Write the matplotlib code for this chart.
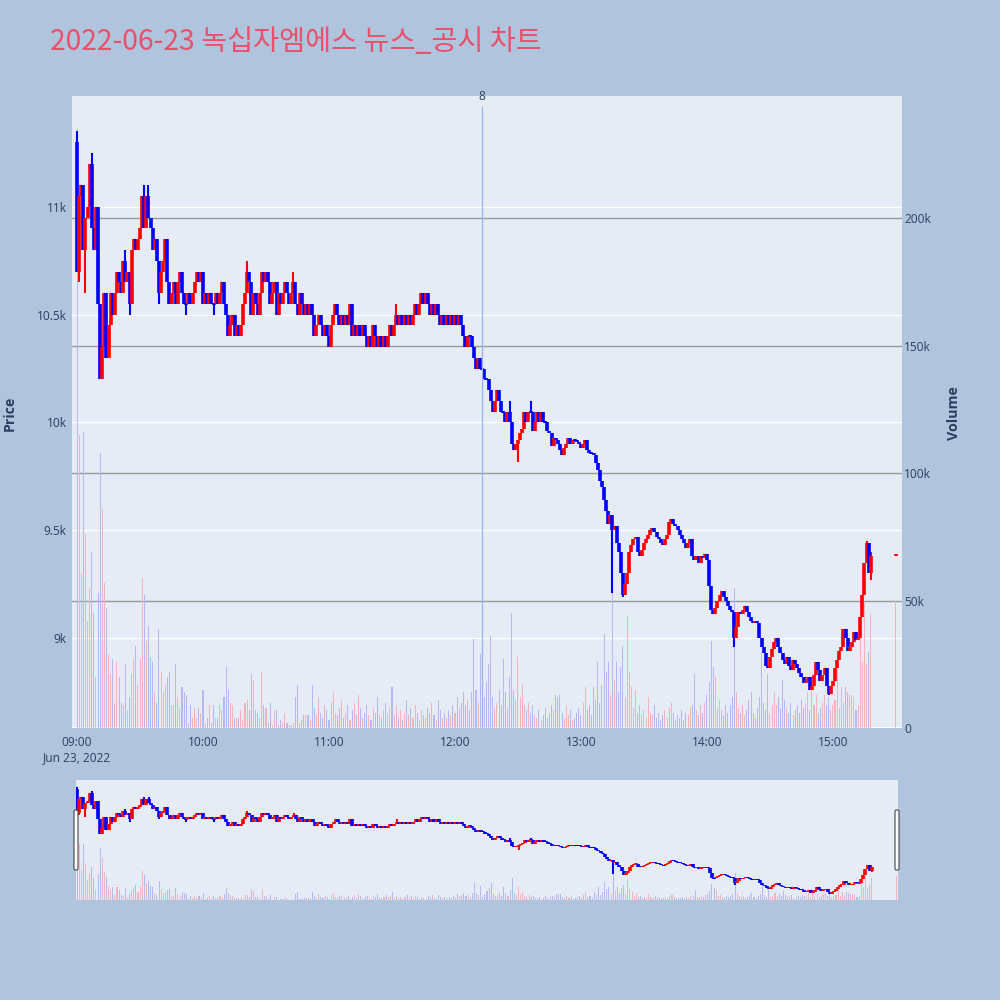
import matplotlib
matplotlib.use('Agg')
import matplotlib.pyplot as plt
from matplotlib.collections import LineCollection
from matplotlib.patches import FancyBboxPatch
from matplotlib.transforms import blended_transform_factory

plt.rcParams['font.family'] = ['Open Sans', 'Noto Sans CJK KR', 'DejaVu Sans']

# ---------------- data ----------------
title = '2022-06-23 녹십자엠에스 뉴스_공시 차트'
date_label = 'Jun 23, 2022'
hour_ticks = [0, 60, 120, 180, 240, 300, 360]          # minutes after 09:00
hour_labels = ['09:00', '10:00', '11:00', '12:00', '13:00', '14:00', '15:00']
price_ticks = [9000, 9500, 10000, 10500, 11000]
price_labels = ['9k', '9.5k', '10k', '10.5k', '11k']
vol_ticks = [0, 50000, 100000, 150000, 200000]
vol_labels = ['0', '50k', '100k', '150k', '200k']
news_minutes = [193]          # 12:13
news_labels = ['8']

# one candle per minute from 09:00 (minute 0) to 15:18 (minute 378), then closing auction (15:30)
minutes = list(range(379)) + [390]

close = [
    10700, 11050, 11100, 10800, 10950, 11000, 11200, 10900, 10800, 11000,
    10550, 10200, 10350, 10600, 10300, 10450, 10600, 10500, 10600, 10700,
    10650, 10600, 10750, 10650, 10700, 10550, 10800, 10850, 10800, 10850,
    10900, 11050, 10900, 11050, 10950, 10900, 10800, 10850, 10750, 10600,
    10700, 10750, 10850, 10650, 10550, 10600, 10650, 10550, 10650, 10700,
    10600, 10550, 10550, 10600, 10550, 10600, 10650, 10700, 10650, 10700,
    10550, 10600, 10550, 10600, 10550, 10550, 10600, 10550, 10600, 10650,
    10550, 10500, 10400, 10450, 10500, 10400, 10450, 10400, 10450, 10550,
    10600, 10700, 10650, 10500, 10600, 10550, 10500, 10600, 10700, 10650,
    10700, 10650, 10550, 10600, 10650, 10500, 10600, 10550, 10600, 10650,
    10600, 10550, 10600, 10650, 10550, 10500, 10600, 10550, 10500, 10550,
    10500, 10550, 10500, 10400, 10450, 10500, 10450, 10400, 10450, 10400,
    10350, 10450, 10500, 10550, 10500, 10450, 10500, 10450, 10500, 10450,
    10550, 10400, 10450, 10400, 10450, 10400, 10450, 10400, 10350, 10400,
    10350, 10450, 10400, 10350, 10400, 10350, 10400, 10350, 10400, 10450,
    10400, 10450, 10500, 10450, 10500, 10450, 10500, 10450, 10500, 10450,
    10500, 10550, 10500, 10550, 10600, 10550, 10600, 10550, 10500, 10550,
    10500, 10550, 10500, 10450, 10500, 10450, 10500, 10450, 10500, 10450,
    10500, 10450, 10500, 10450, 10400, 10350, 10400, 10400, 10350, 10300,
    10250, 10300, 10250, 10250, 10200, 10200, 10150, 10100, 10050, 10100,
    10150, 10100, 10050, 10050, 10000, 10050, 10000, 9900, 9870, 9900,
    9920, 9950, 9970, 10050, 10000, 10050, 10050, 9960, 10000, 10050,
    10000, 10050, 10000, 10000, 9960, 9950, 9890, 9930, 9920, 9900,
    9870, 9850, 9880, 9900, 9930, 9900, 9920, 9920, 9910, 9900,
    9880, 9900, 9920, 9870, 9860, 9860, 9850, 9810, 9780, 9730,
    9700, 9640, 9590, 9530, 9570, 9500, 9520, 9440, 9400, 9300,
    9200, 9250, 9300, 9400, 9430, 9460, 9470, 9400, 9380, 9410,
    9440, 9460, 9480, 9500, 9510, 9490, 9470, 9460, 9440, 9430,
    9460, 9480, 9540, 9550, 9530, 9520, 9500, 9480, 9460, 9440,
    9420, 9440, 9460, 9380, 9360, 9380, 9350, 9380, 9370, 9390,
    9360, 9240, 9130, 9110, 9140, 9170, 9200, 9220, 9190, 9170,
    9150, 9130, 9120, 9000, 9050, 9120, 9110, 9130, 9150, 9120,
    9100, 9080, 9070, 9080, 9070, 9000, 8960, 8930, 8870, 8860,
    8910, 8950, 8980, 9000, 8960, 8930, 8900, 8880, 8910, 8870,
    8850, 8900, 8880, 8860, 8840, 8820, 8790, 8800, 8820, 8760,
    8780, 8830, 8890, 8850, 8800, 8830, 8860, 8780, 8740, 8780,
    8800, 8860, 8900, 8940, 8960, 9040, 9000, 8940, 8960, 8980,
    9030, 8990, 9000, 9100, 9200, 9350, 9440, 9300, 9380,
    9390,
]
first_open = 11300
auction_open = 9380
# wick extremes (minute -> price)
wick_high = {0: 11350, 7: 11250, 23: 10800, 32: 11100, 34: 11100, 81: 10750,
             103: 10700, 152: 10550, 206: 10100, 216: 10100, 376: 9450, 378: 9400}
wick_low = {1: 10650, 4: 10600, 13: 10350, 25: 10500, 39: 10550, 52: 10500,
            65: 10500, 120: 10350, 210: 9815, 255: 9210, 260: 9190, 313: 8960,
            358: 8735, 378: 9270}

volume_k = [
    235, 115, 61, 116, 76, 42, 55, 69, 45, 20,
    53, 108, 86, 57, 47, 29, 21, 27, 10, 26,
    20, 10, 9, 25, 7, 12, 21, 27, 32, 17,
    27, 59, 52, 34, 40, 28, 26, 14, 10, 39,
    22, 14, 17, 20, 22, 9, 9, 25, 12, 8,
    16, 14, 13, 2, 9, 4, 8, 4, 8, 6,
    15, 2, 4, 9, 2, 9, 4, 4, 9, 7,
    12, 24, 15, 10, 9, 4, 4, 4, 7, 3,
    10, 11, 7, 21, 19, 7, 6, 4, 22, 9,
    8, 2, 10, 1, 7, 7, 1, 3, 2, 6,
    2, 1, 1, 2, 12, 17, 2, 3, 5, 5,
    5, 3, 17, 8, 5, 12, 6, 4, 9, 7,
    3, 10, 14, 6, 5, 8, 11, 4, 6, 9,
    3, 7, 10, 5, 13, 8, 4, 6, 9, 5,
    3, 8, 6, 12, 5, 4, 7, 10, 6, 8,
    16, 5, 9, 4, 7, 3, 6, 11, 5, 8,
    4, 9, 6, 3, 7, 5, 4, 8, 6, 10,
    5, 3, 11, 7, 4, 6, 4, 7, 5, 9,
    6, 12, 8, 10, 14, 9, 11, 7, 14, 35,
    15, 10, 29, 6, 12, 18, 25, 36, 12, 8,
    10, 15, 9, 27, 14, 8, 20, 45, 15, 11,
    28, 12, 17, 9, 7, 10, 6, 9, 5, 4,
    7, 3, 5, 8, 4, 6, 9, 7, 13, 12,
    13, 6, 4, 9, 5, 7, 3, 4, 6, 8,
    5, 10, 16, 7, 9, 5, 16, 11, 26, 10,
    17, 37, 22, 26, 13, 55, 19, 26, 14, 24,
    32, 12, 44, 22, 16, 8, 15, 6, 9, 5,
    7, 4, 12, 6, 5, 9, 4, 6, 3, 5,
    7, 4, 8, 10, 6, 3, 5, 4, 7, 3,
    6, 5, 8, 9, 21, 7, 5, 9, 6, 10,
    13, 18, 34, 24, 20, 8, 11, 7, 5, 9,
    6, 9, 12, 55, 14, 8, 6, 9, 5, 7,
    11, 14, 6, 4, 8, 12, 30, 10, 7, 21,
    6, 9, 14, 9, 12, 8, 19, 11, 8, 6,
    10, 5, 7, 9, 6, 11, 8, 10, 14, 7,
    18, 9, 13, 6, 8, 10, 13, 9, 12, 7,
    9, 11, 24, 8, 16, 10, 16, 14, 13, 13,
    12, 7, 9, 37, 26, 49, 25, 30, 45,
    50,
]

# ---------------- derived OHLC ----------------
opens = [first_open] + close[:378] + [auction_open]
highs, lows = [], []
for m, o, c in zip(minutes, opens, close):
    highs.append(max(o, c, wick_high.get(m, 0)))
    lows.append(min(o, c, wick_low.get(m, 10 ** 9)))
volume = [v * 1000 for v in volume_k]

RED = '#FF0000'
BLUE = '#0000FF'
RED_L = '#F2B3BD'
BLUE_L = '#B4B9F6'
BG = '#B0C4DE'
PLOT_BG = '#E5ECF6'
TXT = '#2a3f5f'

W = H = 1000
fig = plt.figure(figsize=(10, 10), dpi=100)
fig.patch.set_facecolor(BG)


def rect(x0, y0, x1, y1):
    return [x0 / W, 1 - y1 / H, (x1 - x0) / W, (y1 - y0) / H]


PRICE_LIM = (8583, 11514)
VOL_LIM = (0, 248000)
X_LIM = (-2.4, 392.9)

up = [c > o for o, c in zip(opens, close)]


def draw_candles(axp, lw_body, lw_wick, min_h):
    wseg, wcol, bseg, bcol = [], [], [], []
    for m, o, h, l, c, u in zip(minutes, opens, highs, lows, close, up):
        col = RED if u else BLUE
        wseg.append([(m, l), (m, h)])
        wcol.append(col)
        lo, hi = min(o, c), max(o, c)
        if hi - lo < min_h:
            mid = (o + c) / 2
            lo, hi = mid - min_h / 2, mid + min_h / 2
        bseg.append([(m, lo), (m, hi)])
        bcol.append(col)
    axp.add_collection(LineCollection(wseg, colors=wcol, linewidths=lw_wick, capstyle='butt', zorder=3))
    axp.add_collection(LineCollection(bseg, colors=bcol, linewidths=lw_body, capstyle='butt', zorder=4))


def draw_volume(axv, width):
    axv.bar(minutes, volume, width=width, color=[RED_L if u else BLUE_L for u in up],
            linewidth=0, zorder=2)


# ---------------- main chart ----------------
ax_v = fig.add_axes(rect(72, 96, 902, 728))
ax_v.set_facecolor(PLOT_BG)
ax_p = fig.add_axes(rect(72, 96, 902, 728), sharex=ax_v)
ax_p.patch.set_alpha(0)

for a in (ax_v, ax_p):
    for s in a.spines.values():
        s.set_visible(False)

ax_v.set_xlim(*X_LIM)
ax_v.set_ylim(*VOL_LIM)
ax_p.set_ylim(*PRICE_LIM)

# price gridlines (white) drawn under everything
bt = blended_transform_factory(ax_v.transAxes, ax_p.transData)
for p in price_ticks:
    ax_v.plot([0, 1], [p, p], transform=bt, color='white', lw=1.0, zorder=0.5)
# volume gridlines (gray)
for v in vol_ticks[1:]:
    ax_v.axhline(v, color='#9a9a9a', lw=1.0, zorder=0.6)
ax_v.axhline(0, color='white', lw=1.5, zorder=0.6)

draw_volume(ax_v, 0.5)
draw_candles(ax_p, 2.6, 1.5, 9.5)

# news marker
bx = blended_transform_factory(ax_p.transData, ax_p.transAxes)
for nm, nl in zip(news_minutes, news_labels):
    ax_p.plot([nm, nm], [0, 0.983], transform=bx, color='#9DB0F0', lw=0.9, zorder=5)
    ax_p.text(nm, 1.0, nl, transform=bx, ha='center', va='center', fontsize=8.6,
              color=TXT, clip_on=False)

# axes ticks
ax_p.yaxis.tick_left()
ax_p.set_yticks(price_ticks)
ax_p.set_yticklabels(price_labels)
ax_p.tick_params(axis='y', length=0, pad=4, labelsize=8.6, labelcolor=TXT)
ax_v.yaxis.tick_right()
ax_v.set_yticks(vol_ticks)
ax_v.set_yticklabels(vol_labels)
ax_v.tick_params(axis='y', length=0, pad=1.5, labelsize=8.6, labelcolor=TXT)
ax_v.set_xticks(hour_ticks)
ax_v.set_xticklabels(hour_labels)
ax_v.tick_params(axis='x', length=0, pad=6, labelsize=8.6, labelcolor=TXT)
ax_p.tick_params(axis='x', bottom=False, labelbottom=False)

fig.text(77 / W, 1 - 758 / H, date_label, ha='center', va='center', fontsize=8.6, color=TXT)
fig.text(10 / W, 1 - 413 / H, 'Price', rotation=90, ha='center', va='center',
         fontsize=10.3, fontweight='bold', color=TXT)
fig.text(954 / W, 1 - 413 / H, 'Volume', rotation=90, ha='center', va='center',
         fontsize=10.3, fontweight='bold', color=TXT)
fig.text(50 / W, 1 - 42 / H, title, ha='left', va='center', fontsize=20.4,
         color='#E9506A', family=['Noto Sans CJK KR', 'DejaVu Sans'])

# ---------------- range slider ----------------
s_v = fig.add_axes(rect(76, 780, 898, 900))
s_v.set_facecolor(PLOT_BG)
s_p = fig.add_axes(rect(76, 780, 898, 900), sharex=s_v)
s_p.patch.set_alpha(0)
for a in (s_v, s_p):
    for s in a.spines.values():
        s.set_visible(False)
    a.set_xticks([])
    a.set_yticks([])
s_v.set_xlim(-0.5, 390.5)
s_v.set_ylim(*VOL_LIM)
s_p.set_ylim(*PRICE_LIM)
draw_volume(s_v, 0.5)
draw_candles(s_p, 2.6, 1.5, 25)

for hx in (74, 895):
    fig.patches.append(FancyBboxPatch((hx / W, 1 - 870 / H), 4 / W, 60 / H,
                                      boxstyle='round,pad=0,rounding_size=0.0015',
                                      transform=fig.transFigure, fc='white',
                                      ec='#444444', lw=0.8, zorder=10))

fig.savefig('out.png', dpi=100, facecolor=BG)
